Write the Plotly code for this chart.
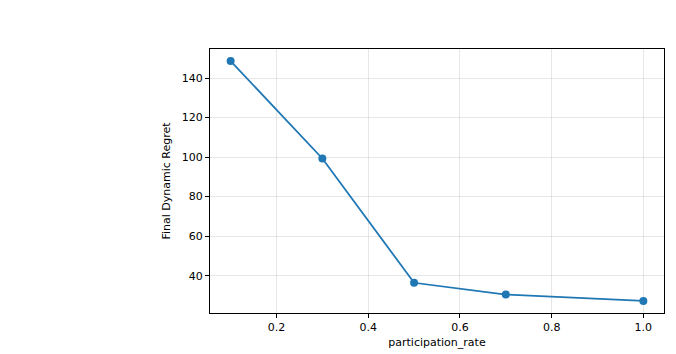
import plotly.graph_objects as go

participation_rate = [0.1, 0.3, 0.5, 0.7, 1.0]
final_regret = [148.6, 99.3, 36.4, 30.4, 27.2]
x_ticks = [0.2, 0.4, 0.6, 0.8, 1.0]
x_tick_labels = ["0.2", "0.4", "0.6", "0.8", "1.0"]
y_ticks = [40, 60, 80, 100, 120, 140]

fig = go.Figure()
fig.add_trace(go.Scatter(
    x=participation_rate, y=final_regret, mode="lines+markers",
    line=dict(color="#1f77b4", width=1.8),
    marker=dict(color="#1f77b4", size=8),
    showlegend=False,
))

axis_common = dict(
    showline=True, linecolor="black", linewidth=1, mirror=True,
    ticks="outside", ticklen=4, tickcolor="black", tickwidth=1,
    showgrid=True, gridcolor="rgba(176,176,176,0.3)", gridwidth=1,
    zeroline=False, tickfont=dict(size=11, color="black"), automargin=False,
)

fig.update_layout(
    width=676, height=354,
    margin=dict(l=210, r=12, t=49, b=41),
    paper_bgcolor="white", plot_bgcolor="white",
    font=dict(family="DejaVu Sans", size=11, color="black"),
    xaxis=dict(range=[0.055, 1.045], tickvals=x_ticks, ticktext=x_tick_labels,
               title=dict(text="participation_rate", font=dict(size=11), standoff=5),
               **axis_common),
    yaxis=dict(range=[21.1, 154.7], tickvals=y_ticks,
               title=dict(text="Final Dynamic Regret", font=dict(size=11), standoff=8),
               **axis_common),
)

fig.write_html("out.html")
